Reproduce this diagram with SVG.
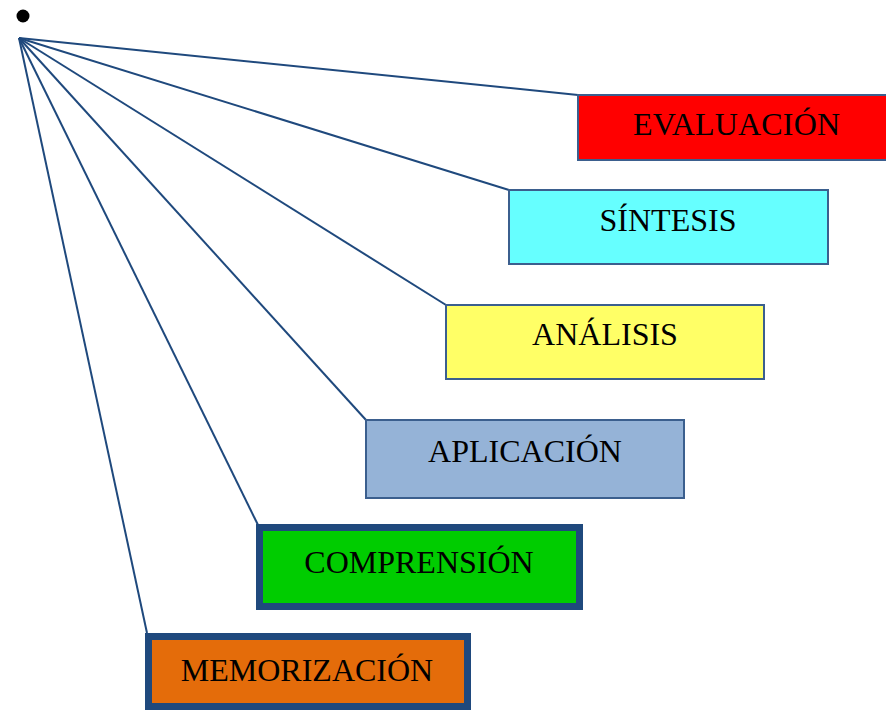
<svg xmlns="http://www.w3.org/2000/svg" width="886" height="710" viewBox="0 0 886 710">
<style>
.t{font-family:"Liberation Serif","Times New Roman",serif;font-size:32px;fill:#000;text-anchor:middle}
.thin{stroke:#3b5f8e;stroke-width:2}
.thick{stroke:#1f497d;stroke-width:7}
.c{stroke:#1f497d;stroke-width:2;fill:none}
</style>
<rect width="886" height="710" fill="#fff"/>
<circle cx="23" cy="16" r="6.5" fill="#000"/>
<g id="connectors">
<line class="c" x1="19" y1="38" x2="578" y2="95"/>
<line class="c" x1="19" y1="38" x2="509" y2="190"/>
<line class="c" x1="19" y1="38" x2="446" y2="305"/>
<line class="c" x1="19" y1="38" x2="366" y2="420"/>
<line class="c" x1="19" y1="38" x2="258" y2="525"/>
<line class="c" x1="19" y1="38" x2="147" y2="633"/>
</g>
<g id="evaluacion">
<rect class="thin" x="578" y="95" width="320" height="65" fill="#ff0000"/>
<text class="t" x="736.5" y="135" textLength="207" lengthAdjust="spacing">EVALUACIÓN</text>
</g>
<g id="sintesis">
<rect class="thin" x="509" y="190" width="319" height="74" fill="#66ffff"/>
<text class="t" x="668" y="231">SÍNTESIS</text>
</g>
<g id="analisis">
<rect class="thin" x="446" y="305" width="318" height="74" fill="#ffff66"/>
<text class="t" x="605" y="345">ANÁLISIS</text>
</g>
<g id="aplicacion">
<rect class="thin" x="366" y="420" width="318" height="78" fill="#95b3d7"/>
<text class="t" x="525" y="462">APLICACIÓN</text>
</g>
<g id="comprension">
<rect class="thick" x="259.5" y="527.5" width="320" height="79" fill="#00cc00"/>
<text class="t" x="419" y="573">COMPRENSIÓN</text>
</g>
<g id="memorizacion">
<rect class="thick" x="148.5" y="636.5" width="319" height="70" fill="#e46c0a"/>
<text class="t" x="307" y="681">MEMORIZACIÓN</text>
</g>
</svg>
